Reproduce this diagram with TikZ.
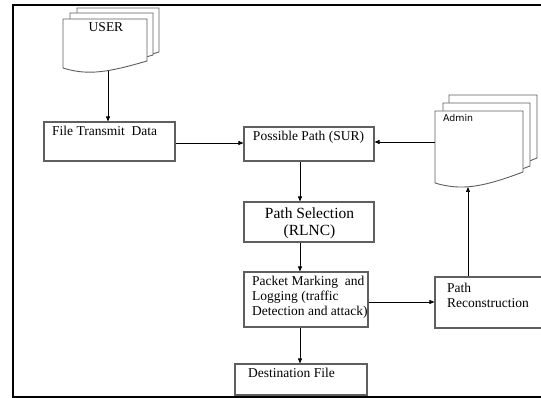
\documentclass[tikz,border=0pt]{standalone}
\usepackage{fontspec}
\setmainfont{Liberation Serif}
\newfontfamily\adminfont{DejaVu Sans}
\usetikzlibrary{arrows.meta}

\definecolor{boxgray}{RGB}{95,95,95}

% one sheet of a document stack: x1, top, x2, bottom right, bottom left
\newcommand{\docpage}[5]{%
	\filldraw[fill=white,draw=boxgray,line width=0.9pt] (#1,#5) -- (#1,#2) -- (#3,#2) -- (#3,#4)
		.. controls ({#1+0.55*(#3-#1)},{#5+4}) and ({#1+0.3*(#3-#1)},{#5+8}) .. (#1,#5);}

\tikzset{
	box/.style={draw=boxgray, line width=1.1pt, inner sep=0pt},
	txt/.style={anchor=base west, inner sep=0pt, font=\fontsize{13.5}{15}\selectfont},
	flow/.style={-{Triangle[length=5pt,width=4pt]}, line width=0.7pt}
}

\begin{document}
\begin{tikzpicture}[x=1pt,y=-1pt]
	\useasboundingbox (0,0) rectangle (541,398);
	\clip (0,0) rectangle (541,398);

	% outer frame
	\draw[line width=2pt] (550,5) -- (13,5) -- (13,397) -- (550,397);

	% user stack
	\docpage{77}{8}{159}{52}{59}
	\docpage{70}{13}{153}{55}{62}
	\docpage{63}{19}{147}{61}{68}
	\node[txt, anchor=base] (user) at (106,32) {USER};
	\coordinate (userb) at (108,71.5);

	% admin stack
	\docpage{449}{95}{537}{158}{170}
	\docpage{443}{103}{530}{166}{177}
	\docpage{435}{111}{523}{172}{183}
	\node[anchor=base west, inner sep=0pt, font=\adminfont\fontsize{9.4}{11}\selectfont] (admin) at (443,122) {Admin};
	\coordinate (adminl) at (435,142);
	\coordinate (adminb) at (468,187);

	% boxes
	\node[box, minimum width=131pt, minimum height=39pt] (ftd) at (109.5,141.5) {};
	\node[box, minimum width=130pt, minimum height=34pt] (pp) at (309,144) {};
	\node[box, minimum width=130pt, minimum height=40pt] (ps) at (309,222) {};
	\node[box, minimum width=124pt, minimum height=55pt] (pm) at (306,299.5) {};
	\node[box, minimum width=132pt, minimum height=31pt] (df) at (301,379.5) {};
	\node[box, minimum width=110pt, minimum height=51pt] (pr) at (490,302.5) {};

	% texts
	\node[txt] (ftd-t) at (52,136) {File Transmit~ Data};
	\node[txt, anchor=base] (pp-t) at (308.5,141) {Possible Path (SUR)};
	\node[txt, anchor=base, font=\fontsize{15.5}{17}\selectfont] (ps-t) at (309.5,219) {Path Selection};
	\node[txt, anchor=base, font=\fontsize{15.5}{17}\selectfont] (ps-t2) at (309.5,236) {(RLNC)};
	\node[txt] (pm-t) at (252,285) {Packet Marking~ and};
	\node[txt] (pm-t2) at (252,300) {Logging (traffic};
	\node[txt] (pm-t3) at (252,315) {Detection and attack)};
	\node[txt] (df-t) at (248,377) {Destination File};
	\node[txt] (pr-t) at (447,292) {Path};
	\node[txt] (pr-t2) at (447,307) {Reconstruction};

	% connectors
	\coordinate (spine) at (300,0);
	\draw[flow] (userb) -- (userb |- ftd.north);
	\draw[flow] (ftd.east |- 0,143) -- (pp.west |- 0,143);
	\draw[flow] (adminl) -- (adminl -| pp.east);
	\draw[flow] (pp.south -| spine) -- (ps.north -| spine);
	\draw[flow] (ps.south -| spine) -- (pm.north -| spine);
	\draw[flow] (pm.south -| spine) -- (df.north -| spine);
	\draw[flow] (pm.east |- 0,302) -- (pr.west |- 0,302);
	\draw[flow] (pr.north -| adminb) -- (adminb);
\end{tikzpicture}
\end{document}
